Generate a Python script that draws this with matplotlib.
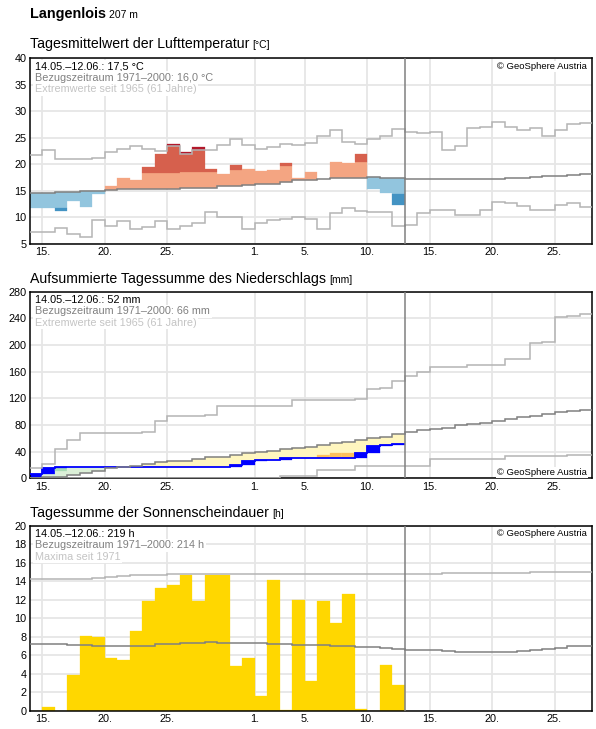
import numpy as np
import matplotlib.pyplot as plt

plt.rcParams['font.family'] = ['Liberation Sans', 'DejaVu Sans']

# ---------------------------------------------------------------------------
# Data (x = days since 14 May; observations 14.05.-12.06.)
n_days = 45
n_obs = 30
today = 30
tick_days = [1, 6, 11, 18, 22, 27, 32, 37, 42]
tick_labels = ['15.', '20.', '25.', '1.', '5.', '10.', '15.', '20.', '25.']

# Air temperature (daily mean, deg C)
t_obs = [11.7, 11.7, 11.3, 13.1, 12.0, 14.4, 15.9, 17.45, 17.05, 19.5,
         22.0, 23.85, 22.3, 23.3, 19.1, 18.2, 19.95, 19.2, 18.8, 18.95,
         20.25, 17.45, 18.55, 17.2, 20.4, 20.3, 22.0, 15.45, 14.7, 12.35]
t_mean = [14.55, 14.7, 14.75, 14.85, 14.9, 15.05, 15.2, 15.3, 15.3, 15.3,
          15.3, 15.3, 15.5, 15.5, 15.6, 15.9, 15.9, 16.2, 16.3, 16.4,
          16.7, 17.0, 17.0, 17.2, 17.4, 17.4, 17.4, 17.55, 17.4, 17.4,
          17.3, 17.3, 17.2, 17.2, 17.2, 17.2, 17.2, 17.2, 17.4, 17.4,
          17.55, 17.8, 17.8, 18.0, 18.2]
t_max = [21.8, 22.8, 21.0, 21.1, 21.0, 21.15, 22.4, 22.85, 23.5, 22.85,
         22.6, 23.5, 22.0, 22.7, 22.75, 23.65, 24.7, 23.65, 22.85, 23.35,
         23.85, 23.7, 24.0, 25.4, 26.4, 24.2, 23.8, 24.7, 25.35, 26.6,
         26.05, 25.85, 26.2, 22.8, 23.5, 26.8, 27.1, 28.05, 27.05, 26.5,
         26.8, 25.4, 26.5, 27.55, 27.75]
t_min = [7.2, 7.2, 8.1, 6.8, 6.4, 9.5, 8.4, 9.3, 7.75, 8.25,
         9.3, 7.9, 8.4, 8.9, 11.0, 10.0, 10.1, 7.75, 9.0, 9.5,
         9.8, 10.0, 9.8, 7.9, 10.8, 11.7, 11.2, 11.1, 11.0, 8.4,
         8.6, 10.8, 11.5, 11.4, 10.5, 10.5, 11.5, 13.0, 12.7, 12.2,
         11.5, 11.5, 12.35, 12.7, 12.0]

# Precipitation (accumulated, mm)
p_obs = [6, 15, 16.5, 16.5, 16.5, 16.5, 16.5, 16.5, 16.5, 16.5,
         16.5, 16.5, 16.5, 16.5, 16.5, 16.5, 19.5, 25.5, 27.5, 27.5,
         30, 30, 30, 30, 30, 30, 37.5, 48.5, 50, 52]
p_mean = [0.7, 1.5, 2.5, 5, 8.5, 11, 15, 17, 19, 21,
          24.5, 25.5, 26.5, 28.5, 31.5, 32.5, 35, 38.5, 40, 41.5,
          43.5, 45, 47.5, 50, 52.5, 55, 57.5, 60, 62.5, 66,
          70, 72.5, 74, 76, 80, 81.5, 83.5, 86, 89, 92.5,
          94, 96, 99, 101, 102.5]
p_max = [16, 21, 43.5, 57.5, 67.5, 67.5, 67.5, 67.5, 67.5, 70,
         86.5, 93.5, 93.5, 93.5, 95, 108.5, 108.5, 108.5, 108.5, 108.5,
         108.5, 117.5, 117.5, 117.5, 117.5, 117.5, 118.5, 133.5, 136, 146,
         154, 159, 167, 167, 167, 170, 170, 170, 179, 179,
         202.5, 204, 241.5, 244, 246]
p_min = [0, 0, 0, 0, 0, 0, 0, 0, 0, 1,
         1, 1, 1, 1, 1, 1, 1, 1, 1, 1,
         4, 4, 4, 12.5, 12.5, 12.5, 18, 18, 18, 18,
         18, 18, 29, 29, 29, 29, 29, 29, 33.5, 33.5,
         33.5, 33.5, 33.5, 34.5, 34.5]
nan = np.nan
# limit of the "strong" wet / dry band (only where it is reached)
p_band = [nan, nan, 11.5, nan, nan, nan, nan, nan, nan, nan,
          nan, nan, nan, nan, nan, nan, nan, nan, nan, nan,
          nan, nan, nan, 35, 37.5, 38.5, nan, nan, nan, nan]

# Sunshine duration (h)
s_obs = [0, 0.4, 0, 3.9, 8.1, 8.0, 5.7, 5.5, 8.6, 11.9,
         13.3, 13.6, 14.7, 11.9, 14.7, 14.7, 4.9, 5.75, 1.65, 14.1,
         0.1, 12.0, 3.2, 11.9, 9.5, 12.6, 0.25, 0, 5.0, 2.85]
s_mean = [7.2, 7.2, 7.2, 7.1, 7.1, 7.0, 7.0, 7.0, 7.05, 7.05,
          7.2, 7.2, 7.3, 7.3, 7.4, 7.3, 7.3, 7.3, 7.3, 7.2,
          7.2, 7.1, 7.1, 7.1, 7.0, 7.0, 6.9, 6.9, 6.75, 6.65,
          6.55, 6.55, 6.55, 6.5, 6.35, 6.35, 6.4, 6.4, 6.4, 6.5,
          6.6, 6.7, 6.85, 7.0, 7.05]
s_max = [14.2, 14.2, 14.3, 14.3, 14.3, 14.4, 14.5, 14.6, 14.7, 14.7,
         14.7, 14.8, 14.8, 14.8, 14.8, 14.8, 14.8, 14.8, 14.8, 14.8,
         14.8, 14.8, 14.8, 14.8, 14.8, 14.8, 14.8, 14.8, 14.8, 14.8,
         14.8, 14.8, 14.8, 14.9, 14.9, 14.9, 14.9, 14.9, 14.9, 14.9,
         15.0, 15.0, 15.0, 15.0, 15.0]

# ---------------------------------------------------------------------------
W, H = 596, 729
fig = plt.figure(figsize=(W / 100, H / 100), dpi=100)

GRID = '#e6e6e6'
MEAN = '#808080'
EXT = '#b4b4b4'
edges = np.arange(n_days + 1)


def make_axes(top, bottom):
    ax = fig.add_axes([30 / W, 1 - bottom / H, 562 / W, (bottom - top) / H])
    ax.set_xlim(0, n_days)
    ax.set_xticks(tick_days)
    ax.set_xticklabels(tick_labels)
    ax.tick_params(length=0, labelsize=7.8, pad=2.5)
    ax.grid(True, color=GRID, lw=1.3)
    ax.set_axisbelow(True)
    for s in ax.spines.values():
        s.set_linewidth(1.1)
    return ax


def title(y, text, unit, size=10.2, bold=False):
    r = fig.canvas.get_renderer()
    t = fig.text(30 / W, 1 - y / H, text, fontsize=size, va='baseline',
                 fontweight='bold' if bold else 'normal')
    bb = t.get_window_extent(renderer=r)
    fig.text(bb.x1 / W + 3 / W, 1 - y / H, unit, fontsize=7.5, va='baseline')


def info(ax, lines):
    cols = ['black', '#808080', '#c4c4c4']
    for i, (txt, c) in enumerate(zip(lines, cols)):
        ax.text(5 / 562, 1 - (8 + 11.5 * i) / 186, txt, transform=ax.transAxes,
                fontsize=7.8, color=c, va='center', ha='left', zorder=6,
                bbox=dict(facecolor='white', edgecolor='none', pad=1.2))


def copyright(ax, y):
    ax.text(1 - 5 / 562, y, '© GeoSphere Austria', transform=ax.transAxes,
            fontsize=6.8, ha='right', va='center', zorder=6,
            bbox=dict(facecolor='white', edgecolor='none', pad=0.8))


def block(ax, d, lo, hi, color):
    if hi > lo:
        ax.bar(d, hi - lo, bottom=lo, width=1, align='edge', color=color,
               edgecolor=color, linewidth=0.2, zorder=2)


fig.canvas.draw()
title(18.3, 'Langenlois', '207 m', size=10.4, bold=True)

# ---- Temperature ----------------------------------------------------------
ax1 = make_axes(58.3, 244)
ax1.set_ylim(5, 40)
ax1.set_yticks(range(5, 41, 5))
title(48.3, 'Tagesmittelwert der Lufttemperatur', '[°C]')
for d in range(n_obs):
    m, v = t_mean[d], t_obs[d]
    if v >= m:
        block(ax1, d, m, min(v, m + 3), '#f4a582')
        block(ax1, d, m + 3, min(v, t_max[d]), '#d6604d')
        block(ax1, d, max(t_max[d], m + 3), v, '#b2182b')
    else:
        block(ax1, d, max(v, m - 3), m, '#92c5de')
        block(ax1, d, max(v, t_min[d]), m - 3, '#4393c3')
        block(ax1, d, v, min(t_min[d], m - 3), '#2166ac')
ax1.stairs(t_max, edges, baseline=None, color=EXT, lw=1.1, zorder=3)
ax1.stairs(t_min, edges, baseline=None, color=EXT, lw=1.1, zorder=3)
ax1.stairs(t_mean, edges, baseline=None, color=MEAN, lw=1.1, zorder=3)
ax1.axvline(today, color=MEAN, lw=1.1, zorder=4)
info(ax1, ['14.05.–12.06.: 17,5 °C', 'Bezugszeitraum 1971–2000: 16,0 °C',
           'Extremwerte seit 1965 (61 Jahre)'])
copyright(ax1, 1 - 8 / 186)

# ---- Precipitation --------------------------------------------------------
ax2 = make_axes(291.7, 478.3)
ax2.set_ylim(0, 280)
ax2.set_yticks(range(0, 281, 40))
title(282.7, 'Aufsummierte Tagessumme des Niederschlags', '[mm]')
for d in range(n_obs):
    m, v = p_mean[d], p_obs[d]
    wet = v > m
    block(ax2, d, min(m, v), max(m, v), '#dcf0d8' if wet else '#fff6bf')
    b = p_band[d]
    if not np.isnan(b):
        block(ax2, d, min(v, b), max(v, b), '#a8dcb4' if wet else '#fdc05c')
    prev = p_obs[d - 1] if d else 0
    block(ax2, d, prev, v, '#0000ff')
ax2.stairs(p_obs, np.arange(n_obs + 1), baseline=None, color='#0000ff',
           lw=1.3, zorder=3)
ax2.stairs(p_max, edges, baseline=None, color=EXT, lw=1.1, zorder=3)
ax2.stairs(p_min, edges, baseline=None, color=EXT, lw=1.1, zorder=3)
ax2.stairs(p_mean, edges, baseline=None, color=MEAN, lw=1.1, zorder=3)
ax2.axvline(today, color=MEAN, lw=1.1, zorder=4)
info(ax2, ['14.05.–12.06.: 52 mm', 'Bezugszeitraum 1971–2000: 66 mm',
           'Extremwerte seit 1965 (61 Jahre)'])
copyright(ax2, 5.6 / 186)

# ---- Sunshine -------------------------------------------------------------
ax3 = make_axes(525.7, 711)
ax3.set_ylim(0, 20)
ax3.set_yticks(range(0, 21, 2))
title(517.3, 'Tagessumme der Sonnenscheindauer', '[h]')
ax3.bar(np.arange(n_obs), s_obs, width=1, align='edge', color='#ffd700',
        edgecolor='#ffd700', linewidth=0.2, zorder=2)
ax3.stairs(s_max, edges, baseline=None, color=EXT, lw=1.1, zorder=3)
ax3.stairs(s_mean, edges, baseline=None, color=MEAN, lw=1.1, zorder=3)
ax3.axvline(today, color=MEAN, lw=1.1, zorder=4)
info(ax3, ['14.05.–12.06.: 219 h', 'Bezugszeitraum 1971–2000: 214 h',
           'Maxima seit 1971'])
copyright(ax3, 1 - 8 / 186)

plt.savefig('out.png', dpi=100)
